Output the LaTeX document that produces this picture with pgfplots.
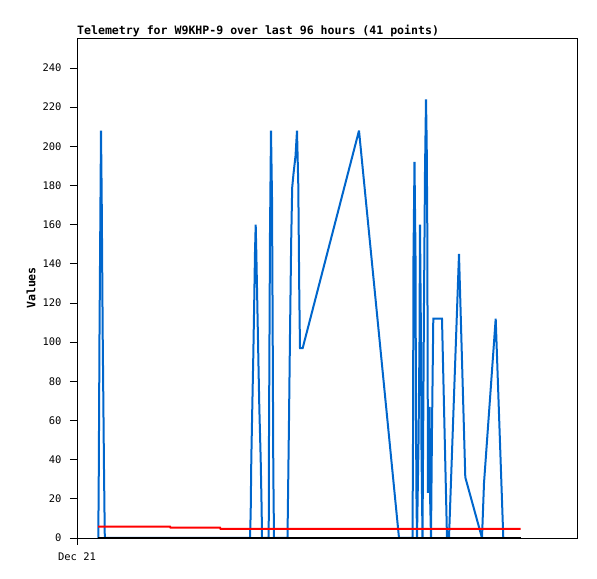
\documentclass[border=0pt]{standalone}
\usepackage{fontspec}
\setmainfont{DejaVu Sans Mono}
\usepackage{pgfplots}
\pgfplotsset{compat=1.18}
\definecolor{tblue}{RGB}{0,102,204}
\definecolor{tred}{RGB}{255,0,0}
\begin{document}
\begin{tikzpicture}
\path[use as bounding box] (0bp,0bp) rectangle (597bp,579bp);
\begin{axis}[
  at={(77bp,41bp)}, anchor=south west,
  width=500bp, height=500bp, scale only axis,
  xmin=0, xmax=500, ymin=0, ymax=255.3,
  xtick={0}, xticklabels={Dec 21},
  ytick={0,20,...,240},
  tick pos=left,
  tick align=outside,
  major tick length=7bp,
  tick style={black, line width=0.8bp},
  axis line style={black, line width=0.8bp},
  ticklabel style={font=\fontsize{10.5}{12}\selectfont},
  yticklabel style={xshift=-5bp},
  xticklabel style={yshift=-4bp},
  /pgf/number format/assume math mode=true,
  title={Telemetry for W9KHP-9 over last 96 hours (41 points)},
  title style={at={(axis description cs:0,1)}, anchor=base west, yshift=-2bp, inner sep=0pt, font=\fontsize{11.6}{13}\selectfont\bfseries},
  ylabel={Values},
  ylabel style={at={(axis description cs:-0.092,0.5)}, anchor=center, inner sep=0pt, font=\fontsize{11.6}{13}\selectfont\bfseries},
  clip=false,
]
\addplot[tblue, line width=2bp, line join=miter, miter limit=2] coordinates {
(21.3,0)(21.8,35)(22.5,104)(23.5,174)(24,208)(24.7,174)(25.7,104)(27,35)(27.8,0)
(173,0)(173.7,13)(174.3,40)(175.3,67)(176.3,93)(177.2,120)(178,146)(178.7,160)(179.3,146)(180.3,120)(181.3,93)(182.3,67)(183.7,40)(184.7,13)(185,0)
(191.7,0)(192,52)(193,156)(194,208)(195,174)(195.7,104)(196.3,35)(197,0)
(210.5,0)(211,20)(212,60)(213,104)(214.2,152)(215.2,179)(216.5,186)(218.5,195)(220,208)(221.3,180)(222.3,124)(223,97)(225.7,97)(282,208)(322,0)
(335.5,0)(336,48)(336.5,144)(337.5,192)(338.5,144)(339,60)(339.5,20)(340,0)(341.5,48)(342.5,100)(343,160)(344,100)(344.5,45)(345.5,0)(347,120)(348,187)(349,224)(349.7,202)(350.3,157)(351,23)(352.5,67)(353,23)(354,0)(355,56)(356.3,112)(365,112)(370,0)(372,0)(382,145)(388.3,31)(405,0)(407,28)(418.7,112)(426.3,0)
};
\addplot[tred, line width=2bp] coordinates {
(21,5.8)(93,5.8)(93.5,5.3)(143,5.3)(143.5,4.7)(443.7,4.7)
};
\addplot[black, line width=2bp] coordinates {
(21,0)(443.7,0)
};
\end{axis}
\end{tikzpicture}
\end{document}
